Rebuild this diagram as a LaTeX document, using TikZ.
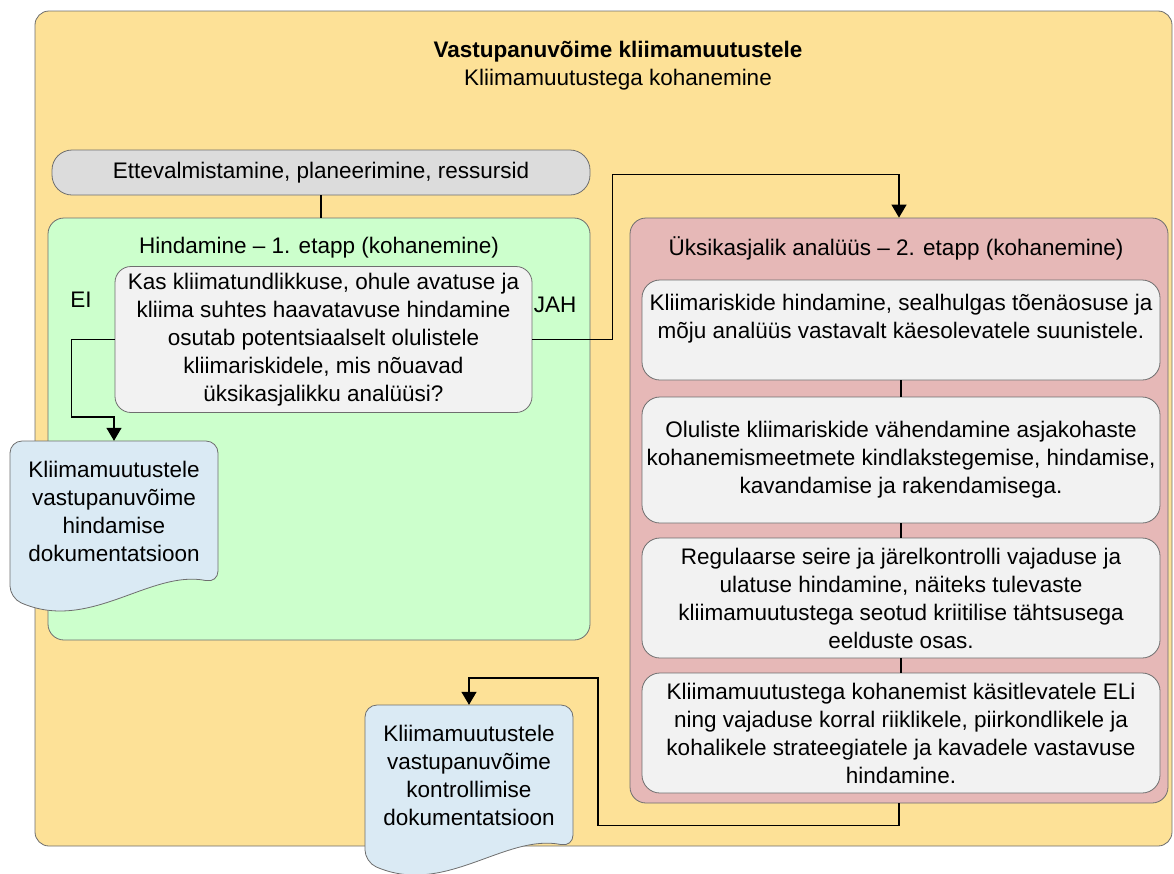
\documentclass[tikz,border=0pt]{standalone}
\usepackage{fontspec}
\setmainfont{Liberation Sans}
\usetikzlibrary{arrows.meta,calc}
\definecolor{bgyellow}{HTML}{FDE197}
\definecolor{boxgray}{HTML}{DCDCDC}
\definecolor{stagegreen}{HTML}{CCFFCC}
\definecolor{stagered}{HTML}{E6B8B7}
\definecolor{cardgray}{HTML}{F2F2F2}
\definecolor{docblue}{HTML}{DAEAF4}
\definecolor{edgegray}{HTML}{6E6E6E}
% document shape: name, top-left x, top-left y, text
\newcommand{\docnode}[4]{%
  \filldraw[docb] (#2,#3+70) -- (#2,#3) -- (#2+208,#3) -- (#2+208,#3+142) .. controls (#2+140,#3+128) and (#2+80,#3+192) .. (#2,#3+157) -- cycle;
  \node[doct] (#1) at (#2+104,#3+70) {#4};}

\begin{document}
\begin{tikzpicture}[x=1pt, y=-1pt, font=\fontsize{22.5}{28}\selectfont,
  outer/.style={draw=edgegray, fill=bgyellow, rounded corners=14pt, line width=0.8pt},
  grp/.style={draw=edgegray, rounded corners=16pt, line width=0.8pt},
  card/.style={draw=edgegray, fill=cardgray, rounded corners=18pt, line width=0.8pt, align=center, inner sep=0pt},
  lab/.style={align=center, inner sep=0pt},
  docb/.style={draw=edgegray, fill=docblue, rounded corners=12pt, line width=0.8pt},
  doct/.style={minimum width=208pt, minimum height=140pt, align=center, inner sep=0pt},
  conn/.style={line width=1.4pt, -{Triangle[length=13pt,width=15pt]}},
  link/.style={line width=1.1pt}]
\useasboundingbox (0,0) rectangle (1174,873);
\draw[outer] (35,11) rectangle (1172,846);
\node[lab, font=\fontsize{22.5}{28}\selectfont\bfseries] (title) at (618,52) {Vastupanuvõime kliimamuutustele};
\node[lab] (subtitle) at (618,80) {Kliimamuutustega kohanemine};
\node[grp, fill=boxgray, minimum width=538pt, minimum height=45pt, rounded corners=20pt] (prep) at (321,172.5) {Ettevalmistamine, planeerimine, ressursid};
% stage 1
\node[grp, fill=stagegreen, minimum width=542pt, minimum height=422pt] (hind) at (319,429) {};
\node[lab] (hindt) at (319,248) {Hindamine – 1. etapp (kohanemine)};
\node[card, minimum width=417pt, minimum height=146pt, rounded corners=16pt] (q) at (323.5,339.5) {Kas kliimatundlikkuse, ohule avatuse ja\\kliima suhtes haavatavuse hindamine\\osutab potentsiaalselt olulistele\\kliimariskidele, mis nõuavad\\üksikasjalikku analüüsi?};
\node[lab] (ei) at (81,300) {EI};
\node[lab] (jah) at (555,305) {JAH};
\draw[link] (prep.south) -- (prep.south |- hind.north);
% stage 2
\node[grp, fill=stagered, minimum width=538pt, minimum height=585pt] (anal) at (899,510.5) {};
\node[lab] (analt) at (896,248) {Üksikasjalik analüüs – 2. etapp (kohanemine)};
\node[card, minimum width=518pt, minimum height=100pt] (r1) at (901,330) {Kliimariskide hindamine, sealhulgas tõenäosuse ja\\mõju analüüs vastavalt käesolevatele suunistele.\\\mbox{}};
\node[card, minimum width=518pt, minimum height=126pt] (r2) at (901,460) {Oluliste kliimariskide vähendamine asjakohaste\\kohanemismeetmete kindlakstegemise, hindamise,\\kavandamise ja rakendamisega.};
\node[card, minimum width=518pt, minimum height=120pt] (r3) at (901,598) {Regulaarse seire ja järelkontrolli vajaduse ja\\ulatuse hindamine, näiteks tulevaste\\kliimamuutustega seotud kriitilise tähtsusega\\eelduste osas.};
\node[card, minimum width=518pt, minimum height=120pt] (r4) at (901,733) {Kliimamuutustega kohanemist käsitlevatele ELi\\ning vajaduse korral riiklikele, piirkondlikele ja\\kohalikele strateegiatele ja kavadele vastavuse\\hindamine.};
\draw[link] (r1) -- (r2);
\draw[link] (r2) -- (r3);
\draw[link] (r3) -- (r4);
% documents
\docnode{doc1}{10}{441}{Kliimamuutustele\\vastupanuvõime\\hindamise\\dokumentatsioon}
\docnode{doc2}{365}{705}{Kliimamuutustele\\vastupanuvõime\\kontrollimise\\dokumentatsioon}
% connectors
\draw[conn] (q.west) -- ++(-43,0) |- ($(doc1.north)+(0,-24)$) -- (doc1.north);
\draw[conn] (q.east) -- ++(80,0) |- ($(anal.north)+(0,-43)$) -- (anal.north);
\draw[conn] (anal.south) -- ++(0,22) -- ++(-301,0) |- ($(doc2.north)+(0,-27)$) -- (doc2.north);
\end{tikzpicture}
\end{document}
